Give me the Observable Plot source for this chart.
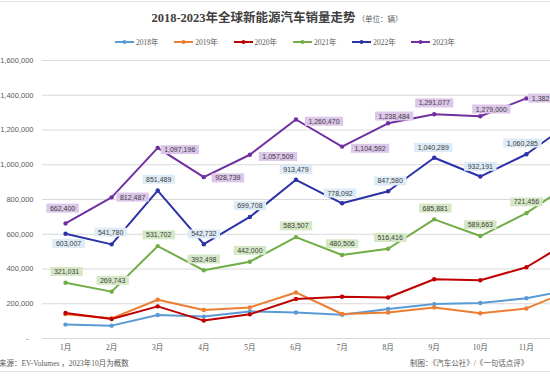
<!DOCTYPE html>
<html><head><meta charset="utf-8">
<script src="https://cdn.jsdelivr.net/npm/d3@7"></script>
<script src="https://cdn.jsdelivr.net/npm/@observablehq/plot@0.6"></script>
<style>
html,body{margin:0;padding:0;background:#fff;}
#wrap{position:relative;width:550px;height:378px;overflow:hidden;background:#fff;font-family:"Liberation Serif","Noto Sans CJK SC",serif;color:#595959;}
#topline{position:absolute;left:0;top:1px;width:550px;height:1px;background:#e3e3e3;}
#botline{position:absolute;left:0;top:371px;width:550px;height:1px;background:#e3e3e3;}
#title{position:absolute;left:0;top:7px;width:554px;text-align:center;white-space:nowrap;}
#title .main{font-size:12.5px;font-weight:bold;color:#404040;}
#title .unit{font-size:7.5px;color:#595959;margin-left:2px;}
#legend{position:absolute;left:115px;top:36px;display:flex;font-size:7.5px;color:#595959;}
#legend .item{display:flex;align-items:center;width:59.3px;}
#legend svg{margin-right:2px;}
#chart{position:absolute;left:0;top:52px;width:610px;height:310px;}
#chart svg{max-width:none !important;width:610px !important;height:310px !important;}
.cap{position:absolute;top:357px;font-size:7.5px;white-space:nowrap;color:#595959;}
</style></head>
<body><div id="wrap">
<div id="topline"></div>
<div id="title"><span class="main">2018-2023年全球新能源汽车销量走势</span><span class="unit">（单位：辆）</span></div>
<div id="legend"></div>
<div id="chart"></div>
<div class="cap" style="left:-1px">来源：EV-Volumes ，2023年10月为概数</div>
<div class="cap" style="left:410px">制图：《汽车公社》/《一句话点评》</div>
<div id="botline"></div>
</div>
<script>
// ---- data ----
const months = ["1月","2月","3月","4月","5月","6月","7月","8月","9月","10月","11月","12月"];
const seriesNames = ["2018年","2019年","2020年","2021年","2022年","2023年"];
const v2018 = [80000, 74000, 135000, 126000, 156000, 150000, 137000, 170000, 198000, 204000, 232000, 281000];
const v2019 = [140000, 116000, 223000, 164000, 179000, 265000, 141000, 150000, 179000, 145000, 173000, 282000];
const v2020 = [147000, 112000, 185000, 103000, 139000, 227000, 240000, 236000, 341000, 335000, 410000, 570000];
const v2021 = [321031, 269743, 531702, 392498, 442000, 583507, 480506, 516416, 685881, 589663, 721456, 900000];
const v2022 = [603007, 541780, 851489, 542732, 699708, 913479, 778092, 847580, 1040289, 932191, 1060285, 1250000];
const v2023 = [662400, 812487, 1097196, 928739, 1057509, 1260470, 1104592, 1238484, 1291077, 1279000, 1382000];
const yTicks = [0, 200000, 400000, 600000, 800000, 1000000, 1200000, 1400000, 1600000];

// ---- styles ----
const colors = ["#5b9bd5","#ed7d31","#c00000","#70ad47","#2b32a8","#7030a0"];
const labelFill = {"2021年":"#d5e8c6","2022年":"#ddebf7","2023年":"#dcc6ea"};
const labelOffsets = {
  "2023年": [[-3,-15],[21,0],[22,2],[24,1],[28,2],[28,2],[28,2],[6,-7],[0,-11],[11,-7],[21,0]],
  "2022年": [[3,10],[-1,-12],[1,-11],[0,-10],[0,-11],[0,-10],[-2,-10],[2,-10],[-1,-10],[0,-10],[-4,-11]],
  "2021年": [[1,-11],[1,-11],[1,-11],[0,-11],[0,-11],[0,-11],[0,-11],[2,-11],[1,-11],[0,-11],[0,-11]]
};

const allVals = [v2018, v2019, v2020, v2021, v2022, v2023];
const rows = [];
seriesNames.forEach((s, i) => allVals[i].forEach((v, j) => rows.push({series: s, month: j + 1, value: v})));

// legend
const legend = document.getElementById("legend");
seriesNames.forEach((s, i) => {
  const it = document.createElement("div");
  it.className = "item";
  it.innerHTML = `<svg width="19" height="6"><line x1="0" y1="3" x2="19" y2="3" stroke="${colors[i]}" stroke-width="2"/><circle cx="9.5" cy="3" r="2" fill="${colors[i]}"/></svg><span>${s}</span>`;
  legend.appendChild(it);
});

const fmt = d3.format(",");
const labelMarks = [];
Object.keys(labelOffsets).forEach(s => {
  const data = rows.filter(r => r.series === s && r.month <= 11);
  data.forEach((d, k) => {
    const [dx, dy] = labelOffsets[s][k];
    labelMarks.push(Plot.text([d], {x: "month", y: "value", text: r => fmt(r.value), dx, dy,
      fill: "#404040", fontSize: 7, fontFamily: "Liberation Sans, sans-serif"}));
  });
});

const plot = Plot.plot({
  width: 610, height: 310,
  marginLeft: 42, marginRight: 15, marginTop: 8, marginBottom: 24,
  style: {fontFamily: "Liberation Sans, sans-serif", fontSize: "7.5px", color: "#595959", background: "transparent", overflow: "visible", maxWidth: "none"},
  x: {domain: [0.5, 12.5]},
  y: {domain: [0, 1600000]},
  color: {domain: seriesNames, range: colors},
  marks: [
    Plot.gridY(yTicks, {stroke: "#d9d9d9", strokeOpacity: 1, strokeWidth: 1}),
    Plot.axisY(yTicks.filter(d => d > 0), {tickSize: 0, tickPadding: 9, tickFormat: fmt, fill: "#595959", fontSize: 7.5, label: null}),
    Plot.axisY([0], {tickSize: 0, tickPadding: 14, tickFormat: () => "-", fill: "#595959", fontSize: 7.5, label: null}),
    Plot.axisX(d3.range(1, 13), {tickSize: 0, tickPadding: 6, tickFormat: d => months[d - 1], fill: "#595959",
      fontSize: 7.5, fontFamily: "Liberation Serif, Noto Sans CJK SC, serif", label: null}),
    Plot.line(rows, {x: "month", y: "value", z: "series", stroke: "series", strokeWidth: 2}),
    Plot.dot(rows, {x: "month", y: "value", fill: "series", r: 2.2}),
    ...labelMarks
  ]
});
document.getElementById("chart").appendChild(plot);

// boxes behind data labels
const labelColor = new Map();
Object.keys(labelOffsets).forEach(s => rows.filter(r => r.series === s && r.month <= 11).forEach(r => labelColor.set(fmt(r.value), labelFill[s])));
plot.querySelectorAll("text").forEach(t => {
  const c = labelColor.get(t.textContent);
  if (!c) return;
  const b = t.getBBox();
  const rect = document.createElementNS("http://www.w3.org/2000/svg", "rect");
  rect.setAttribute("x", b.x - 3.5);
  rect.setAttribute("y", b.y - 1);
  rect.setAttribute("width", b.width + 7);
  rect.setAttribute("height", b.height + 2);
  rect.setAttribute("fill", c);
  rect.setAttribute("stroke", "none");
  const tr = t.getAttribute("transform");
  if (tr) rect.setAttribute("transform", tr);
  t.parentNode.insertBefore(rect, t);
});
</script>
</body></html>
